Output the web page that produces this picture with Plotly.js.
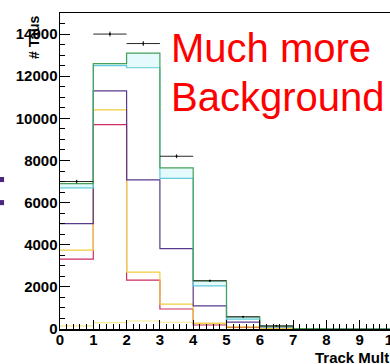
<!DOCTYPE html>
<html>
<head>
<meta charset="utf-8">
<script src="https://cdn.plot.ly/plotly-3.0.1.min.js"></script>
<style>
html,body{margin:0;padding:0;overflow:hidden;background:#fff;width:390px;height:364px;}
#chart{width:410px;height:364px;}
</style>
</head>
<body>
<div id="chart"></div>
<script>
// Bin edges 0..10, one value per bin (bins 0-1, 1-2, ... 9-10)
const binLowEdges = [0, 1, 2, 3, 4, 5, 6, 7, 8, 9];
const dataCounts   = [7000, 14000, 13550, 8200, 2290, 580, 150, 0, 0, 0];
const greenCounts  = [6900, 12600, 13100, 7650, 2280, 570, 120, 15, 0, 0];
const cyanCounts   = [6700, 12500, 12400, 7150, 2050, 470, 110, 10, 0, 0];
const purpleCounts = [5000, 11300, 7080, 3820, 1100, 330, 100, 10, 0, 0];
const yellowCounts = [3740, 10400, 2700, 1180, 280, 100, 20, 0, 0, 0];
const redCounts    = [3320, 9700, 2320, 950, 190, 80, 10, 0, 0, 0];
const paleCounts   = [150, 300, 380, 320, 250, 60, 0, 0, 0, 0];
const xTickVals = [0, 1, 2, 3, 4, 5, 6, 7, 8, 9, 10];
const yTickVals = [0, 2000, 4000, 6000, 8000, 10000, 12000, 14000];

function stepTrace(vals, color, extra) {
  const x = binLowEdges.concat([binLowEdges[binLowEdges.length - 1] + 1]);
  const y = vals.concat([vals[vals.length - 1]]);
  return Object.assign({
    type: 'scatter', mode: 'lines', x: x, y: y,
    line: {shape: 'hv', color: color, width: 1.2},
    hoverinfo: 'skip'
  }, extra || {});
}

const dx = [], dy = [];
binLowEdges.forEach((e, i) => { if (dataCounts[i] > 0) { dx.push(e + 0.5); dy.push(dataCounts[i]); } });

const traces = [
  stepTrace(paleCounts, 'rgb(248,232,140)'),
  stepTrace(redCounts, 'rgb(205,45,95)'),
  stepTrace(yellowCounts, 'rgb(240,205,60)'),
  stepTrace(purpleCounts, 'rgb(88,58,140)'),
  stepTrace(cyanCounts, 'rgb(95,205,220)'),
  stepTrace(greenCounts, 'rgb(70,160,85)', {fill: 'tonexty', fillcolor: 'rgba(205,245,250,0.55)'}),
  {
    type: 'scatter', mode: 'markers', x: dx, y: dy,
    marker: {color: 'black', size: 2},
    error_x: {type: 'constant', value: 0.5, width: 0, thickness: 1, color: 'rgb(40,40,40)'},
    error_y: {type: 'sqrt', width: 0, thickness: 1, color: 'rgb(40,40,40)'},
    hoverinfo: 'skip'
  }
];

const tickFont = {family: 'Liberation Sans, Arial, sans-serif', size: 15, color: 'black', weight: 'bold'};

const layout = {
  width: 410, height: 364,
  margin: {l: 60, r: 17, t: 13, b: 35},
  paper_bgcolor: 'white', plot_bgcolor: 'white',
  showlegend: false,
  xaxis: {
    range: [0, 10], tickvals: xTickVals, ticktext: xTickVals.map(String),
    ticks: 'inside', ticklen: 9, tickwidth: 1, tickcolor: 'black',
    minor: {dtick: 0.2, ticks: 'inside', ticklen: 5, tickwidth: 1, tickcolor: 'black', showgrid: false},
    showline: true, linecolor: 'black', linewidth: 1.5, mirror: true,
    showgrid: false, zeroline: false, tickfont: tickFont, ticklabelstandoff: -4
  },
  yaxis: {
    range: [0, 15000], tickvals: yTickVals, ticktext: yTickVals.map(String),
    ticks: 'inside', ticklen: 10, tickwidth: 1, tickcolor: 'black',
    minor: {dtick: 500, ticks: 'inside', ticklen: 5, tickwidth: 1, tickcolor: 'black', showgrid: false},
    showline: true, linecolor: 'black', linewidth: 1.5, mirror: true,
    showgrid: false, zeroline: false, tickfont: tickFont, ticklabelstandoff: -2
  },
  annotations: [
    {text: 'Much more', xref: 'paper', yref: 'paper', x: 0.328, y: 0.889, xanchor: 'left', yanchor: 'middle',
     showarrow: false, font: {family: 'Liberation Sans, Arial, sans-serif', size: 40, color: 'rgb(255,0,0)'}},
    {text: 'Background', xref: 'paper', yref: 'paper', x: 0.328, y: 0.733, xanchor: 'left', yanchor: 'middle',
     showarrow: false, font: {family: 'Liberation Sans, Arial, sans-serif', size: 40, color: 'rgb(255,0,0)'}},
    {text: '# Taus', xref: 'paper', yref: 'paper', x: -0.078, y: 1.0, xanchor: 'center', yanchor: 'top',
     textangle: -90, showarrow: false, font: {family: 'Liberation Sans, Arial, sans-serif', size: 14, color: 'black', weight: 'bold'}},
    {text: 'Track Mult', xref: 'paper', yref: 'paper', x: 0.995, y: -0.09, xanchor: 'right', yanchor: 'middle',
     showarrow: false, font: {family: 'Liberation Sans, Arial, sans-serif', size: 15, color: 'black', weight: 'bold'}}
  ],
  shapes: [
    {type: 'rect', xref: 'paper', yref: 'paper', x0: -0.185, x1: -0.168, y0: 0.465, y1: 0.481, fillcolor: 'rgb(75,40,125)', line: {width: 0}},
    {type: 'rect', xref: 'paper', yref: 'paper', x0: -0.185, x1: -0.168, y0: 0.392, y1: 0.408, fillcolor: 'rgb(75,40,125)', line: {width: 0}}
  ]
};

Plotly.newPlot('chart', traces, layout, {staticPlot: true, displayModeBar: false});
</script>
</body>
</html>
